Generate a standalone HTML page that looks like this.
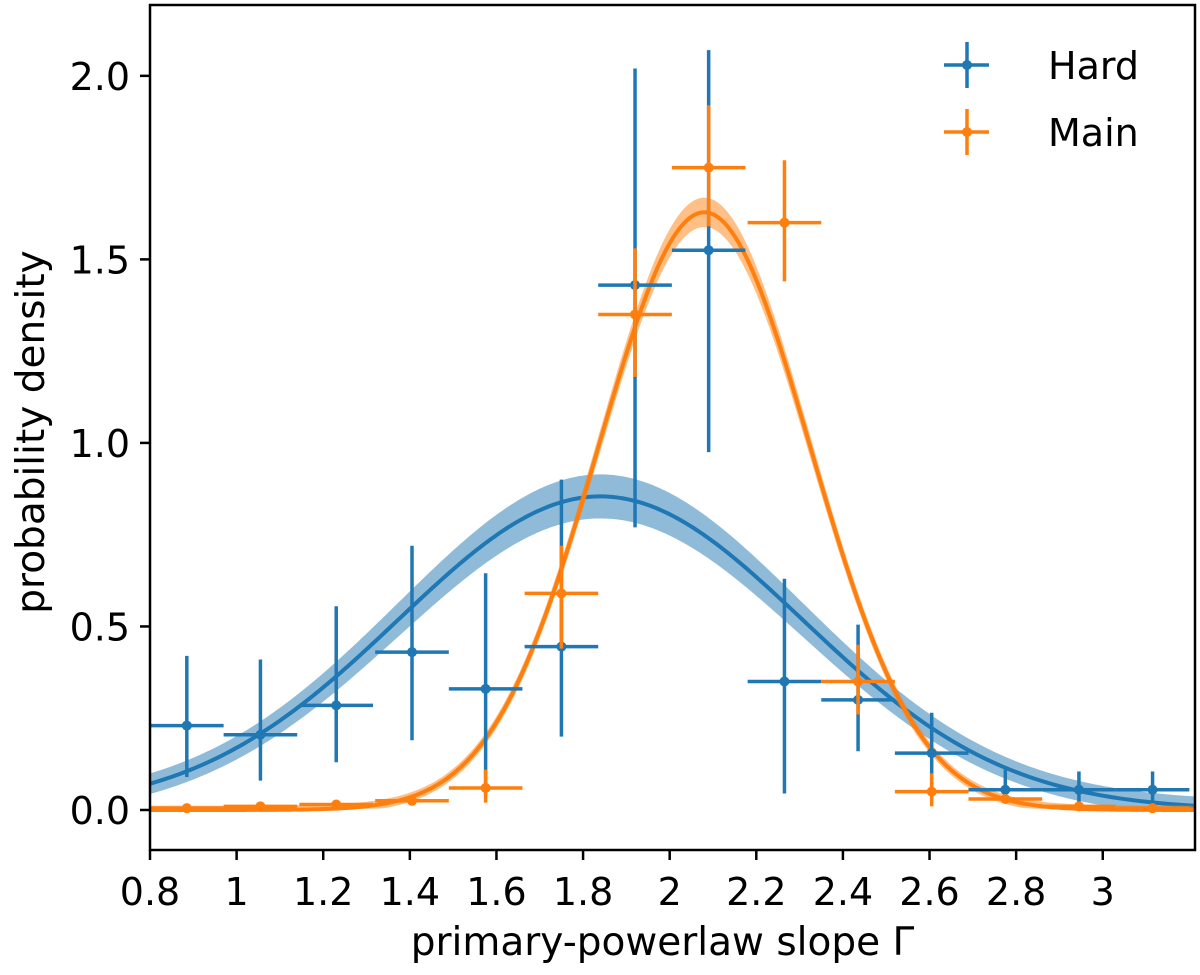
<!DOCTYPE html>
<html><head><meta charset="utf-8"><style>
html,body{margin:0;padding:0;background:#fff;}
svg{display:block;font-family:"DejaVu Sans","Liberation Sans",sans-serif;}
</style></head><body>
<svg id="chart" width="1200" height="975"></svg>
<script>
const centers=[0.885,1.055,1.23,1.405,1.575,1.75,1.92,2.09,2.265,2.435,2.605,2.775,2.945,3.115];
const halfWidth=0.085;
const hardVal=[0.23,0.205,0.285,0.43,0.33,0.445,1.43,1.525,0.35,0.30,0.155,0.055,0.055,0.055];
const hardLo=[0.09,0.08,0.13,0.19,0.04,0.20,0.77,0.975,0.045,0.16,0.05,0.02,0.02,0.02];
const hardHi=[0.42,0.41,0.555,0.72,0.645,0.90,2.02,2.07,0.63,0.505,0.265,0.11,0.105,0.105];
const mainVal=[0.005,0.01,0.015,0.025,0.06,0.59,1.35,1.75,1.6,0.35,0.05,0.03,0.01,0.005];
const mainLo=[0.005,0.01,0.015,0.02,0.02,0.44,1.18,1.59,1.44,0.26,0.01,0.02,0.005,0.005];
const mainHi=[0.005,0.01,0.015,0.03,0.11,0.72,1.53,1.92,1.77,0.45,0.10,0.04,0.015,0.005];
const hardFit=[1.84,0.467,0.06,0.025];   // mean, sigma, band at peak, band at tails
const mainFit=[2.08,0.245,0.04,0.012];
const xTicks=[0.8,1,1.2,1.4,1.6,1.8,2,2.2,2.4,2.6,2.8,3];
const xTickLabels=["0.8","1","1.2","1.4","1.6","1.8","2","2.2","2.4","2.6","2.8","3"];
const yTicks=[0,0.5,1,1.5,2];
const yTickLabels=["0.0","0.5","1.0","1.5","2.0"];

const L=150,R=1195,T=5,B=850,X0=0.8,X1=3.213,Y0=-0.109,Y1=2.193;
const sx=v=>L+(v-X0)/(X1-X0)*(R-L);
const sy=v=>B-(v-Y0)/(Y1-Y0)*(B-T);
const svg=document.getElementById('chart');
const NS='http://www.w3.org/2000/svg';
function mk(tag,attrs,parent){const e=document.createElementNS(NS,tag);for(const k in attrs)e.setAttribute(k,attrs[k]);(parent||svg).appendChild(e);return e;}
const gauss=(x,p)=>Math.exp(-((x-p[0])**2)/(2*p[1]*p[1]))/(p[1]*Math.sqrt(2*Math.PI));

const defs=mk('defs',{});const cp=mk('clipPath',{id:'clip'},defs);mk('rect',{x:L,y:T,width:R-L,height:B-T},cp);
const plot=mk('g',{'clip-path':'url(#clip)'});



function fit(p,color,name){
  let up=[],dn=[],mid=[];
  const pk=gauss(p[0],p);
  for(let i=0;i<=300;i++){const x=X0+(X1-X0)*i/300;const y=gauss(x,p);
    const f=y/pk;const bw=p[3]+(p[2]-p[3])*f;
    up.push(sx(x)+','+sy(y+bw));dn.push(sx(x)+','+sy(Math.max(y-bw,y*0.3)));mid.push(sx(x)+','+sy(y));}
  const band=mk('polygon',{points:up.concat(dn.reverse()).join(' '),fill:color,opacity:0.5},plot);
  
  
  const line=mk('polyline',{points:mid.join(' '),fill:'none',stroke:color,'stroke-width':4},plot);
  
  
}
fit(hardFit,'#1f77b4','hard');
fit(mainFit,'#ff7f0e','main');

function errs(vals,lo,hi,color,name){
  vals.forEach((v,i)=>{
    const g=mk('g',{},plot);
    
    
    mk('line',{x1:sx(centers[i]-halfWidth),x2:sx(centers[i]+halfWidth),y1:sy(v),y2:sy(v),stroke:color,'stroke-width':3.5},g);
    mk('line',{x1:sx(centers[i]),x2:sx(centers[i]),y1:sy(lo[i]),y2:sy(hi[i]),stroke:color,'stroke-width':3.5},g);
    mk('circle',{cx:sx(centers[i]),cy:sy(v),r:5,fill:color},g);
  });
}
errs(hardVal,hardLo,hardHi,'#1f77b4','hard');
errs(mainVal,mainLo,mainHi,'#ff7f0e','main');

const frame=mk('rect',{x:L,y:T,width:R-L,height:B-T,fill:'none',stroke:'#000','stroke-width':2.5});


xTicks.forEach((t,i)=>{
  mk('line',{x1:sx(t),x2:sx(t),y1:B,y2:B+10,stroke:'#000','stroke-width':2.5});
  const tx=mk('text',{x:sx(t),y:905,'text-anchor':'middle','font-size':38});
  tx.textContent=xTickLabels[i];
  
  
});
yTicks.forEach((t,i)=>{
  mk('line',{x1:L-10,x2:L,y1:sy(t),y2:sy(t),stroke:'#000','stroke-width':2.5});
  const tx=mk('text',{x:L-20,y:sy(t)+14,'text-anchor':'end','font-size':38});
  tx.textContent=yTickLabels[i];
  
  
});
const xl=mk('text',{x:(L+R)/2-10,y:955,'text-anchor':'middle','font-size':39});
xl.textContent='primary-powerlaw slope Γ';


const yl=mk('text',{x:0,y:0,'text-anchor':'middle','font-size':39,transform:'translate(44,432) rotate(-90)'});
yl.textContent='probability density';



[['Hard','#1f77b4',65],['Main','#ff7f0e',132]].forEach(([n,c,y])=>{
  const g=mk('g',{});
  
  
  mk('line',{x1:944,x2:989,y1:y,y2:y,stroke:c,'stroke-width':3.5},g);
  mk('line',{x1:967,x2:967,y1:y-23,y2:y+23,stroke:c,'stroke-width':3.5},g);
  mk('circle',{cx:967,cy:y,r:5,fill:c},g);
  const t=mk('text',{x:1048,y:y+14,'font-size':38},g);t.textContent=n;
});
</script>
</body></html>
